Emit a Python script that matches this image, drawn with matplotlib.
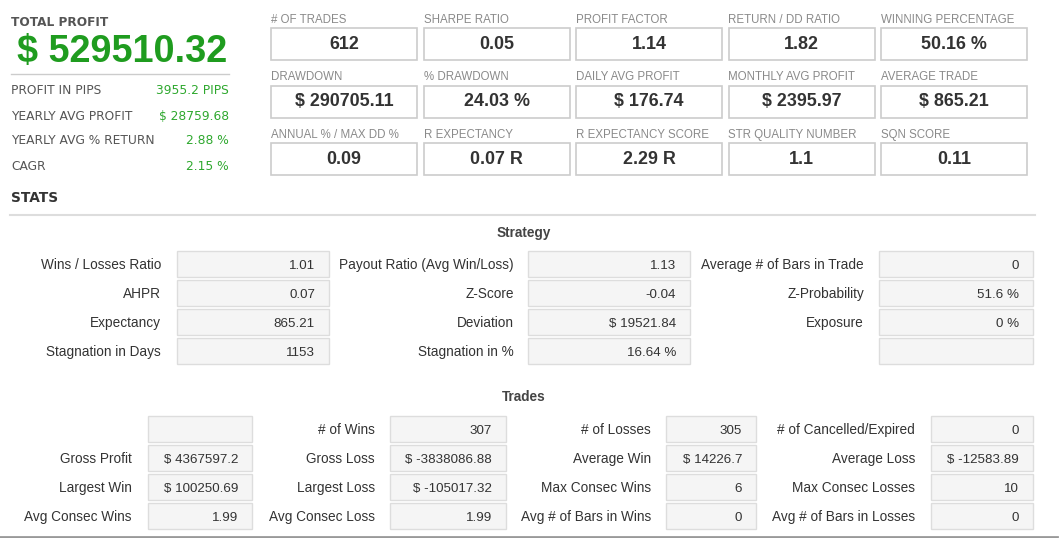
import matplotlib
matplotlib.use('Agg')
import matplotlib.pyplot as plt
from matplotlib.patches import Rectangle

# ---- data ----
total_profit = '$ 529510.32'
summary_labels = ['PROFIT IN PIPS', 'YEARLY AVG PROFIT', 'YEARLY AVG % RETURN', 'CAGR']
summary_values = ['3955.2 PIPS', '$ 28759.68', '2.88 %', '2.15 %']

grid_labels = [['# OF TRADES', 'SHARPE RATIO', 'PROFIT FACTOR', 'RETURN / DD RATIO', 'WINNING PERCENTAGE'],
               ['DRAWDOWN', '% DRAWDOWN', 'DAILY AVG PROFIT', 'MONTHLY AVG PROFIT', 'AVERAGE TRADE'],
               ['ANNUAL % / MAX DD %', 'R EXPECTANCY', 'R EXPECTANCY SCORE', 'STR QUALITY NUMBER', 'SQN SCORE']]
grid_values = [['612', '0.05', '1.14', '1.82', '50.16 %'],
               ['$ 290705.11', '24.03 %', '$ 176.74', '$ 2395.97', '$ 865.21'],
               ['0.09', '0.07 R', '2.29 R', '1.1', '0.11']]

strategy_labels = [['Wins / Losses Ratio', 'AHPR', 'Expectancy', 'Stagnation in Days'],
                   ['Payout Ratio (Avg Win/Loss)', 'Z-Score', 'Deviation', 'Stagnation in %'],
                   ['Average # of Bars in Trade', 'Z-Probability', 'Exposure', '']]
strategy_values = [['1.01', '0.07', '865.21', '1153'],
                   ['1.13', '-0.04', '$ 19521.84', '16.64 %'],
                   ['0', '51.6 %', '0 %', '']]

trades_labels = [['', 'Gross Profit', 'Largest Win', 'Avg Consec Wins'],
                 ['# of Wins', 'Gross Loss', 'Largest Loss', 'Avg Consec Loss'],
                 ['# of Losses', 'Average Win', 'Max Consec Wins', 'Avg # of Bars in Wins'],
                 ['# of Cancelled/Expired', 'Average Loss', 'Max Consec Losses', 'Avg # of Bars in Losses']]
trades_values = [['', '$ 4367597.2', '$ 100250.69', '1.99'],
                 ['307', '$ -3838086.88', '$ -105017.32', '1.99'],
                 ['305', '$ 14226.7', '6', '0'],
                 ['0', '$ -12583.89', '10', '0']]

# ---- layout / style ----
W, H = 1059, 538
GREEN_BIG = '#1f9c1f'
GREEN = '#2ea82e'
TAHOMA = 'DejaVu Sans'
ARIAL = 'Liberation Sans'

fig = plt.figure(figsize=(W / 100, H / 100), dpi=100)
fig.patch.set_facecolor('white')
ax = fig.add_axes([0, 0, 1, 1])
ax.set_xlim(0, W)
ax.set_ylim(H, 0)
ax.axis('off')

# left summary block
ax.text(11, 22, 'TOTAL PROFIT', family=TAHOMA, fontsize=8.7, fontweight='bold', color='#555555', va='center')
ax.text(17, 52, total_profit, family=ARIAL, fontsize=27.3, fontweight='bold', color=GREEN_BIG, va='center')
ax.plot([11, 229], [74, 74], color='#cccccc', lw=1)
for i, (lab, val) in enumerate(zip(summary_labels, summary_values)):
    y = 91 + i * 25
    ax.text(11, y, lab, family=TAHOMA, fontsize=8.8, color='#555555', va='center')
    ax.text(229, y, val, family=TAHOMA, fontsize=8.8, color=GREEN, va='center', ha='right')
ax.text(11, 198, 'STATS', family=TAHOMA, fontsize=9.9, fontweight='bold', color='#333333', va='center')
ax.plot([10, 1035], [215, 215], color='#dddddd', lw=1.5)

# top grid of boxes
for r in range(3):
    for c in range(5):
        x0 = 271 + c * 152.5
        top = 28 + r * 57.5
        ax.text(x0, top - 8, grid_labels[r][c], family=ARIAL, fontsize=8.3, color='#8a8a8a', va='center')
        ax.add_patch(Rectangle((x0, top), 146, 32, facecolor='white', edgecolor='#cccccc', lw=1.2))
        ax.text(x0 + 73, top + 16.5, grid_values[r][c], family=ARIAL, fontsize=12.9, fontweight='bold',
                color='#333333', va='center', ha='center')

def table(labels, values, lab_right, box_left, box_right, y0):
    for c in range(len(labels)):
        for r in range(4):
            y = y0 + r * 29
            if labels[c][r]:
                ax.text(lab_right[c], y + 4.8, labels[c][r], family=ARIAL, fontsize=9.8, color='#333333',
                        va='baseline', ha='right')
            ax.add_patch(Rectangle((box_left[c], y - 13), box_right[c] - box_left[c], 26,
                                   facecolor='#f5f5f5', edgecolor='#dddddd', lw=1))
            ax.text(box_right[c] - 14, y + 4.8, values[c][r], family=ARIAL, fontsize=9.6, color='#333333',
                    va='baseline', ha='right')

# strategy
ax.text(523.5, 233, 'Strategy', family=ARIAL, fontsize=9.8, fontweight='bold', color='#444444',
        va='center', ha='center')
table(strategy_labels, strategy_values, [161, 514, 864], [177, 528, 879], [329, 690, 1033], 264)

# trades
ax.text(523.5, 397, 'Trades', family=ARIAL, fontsize=9.8, fontweight='bold', color='#444444',
        va='center', ha='center')
table(trades_labels, trades_values, [132, 375, 651, 915], [148, 390, 666, 931], [252, 506, 756, 1033], 429)

ax.plot([0, 1057], [536.5, 536.5], color='#999999', lw=2)

fig.savefig('out.png', dpi=100, facecolor='white')
